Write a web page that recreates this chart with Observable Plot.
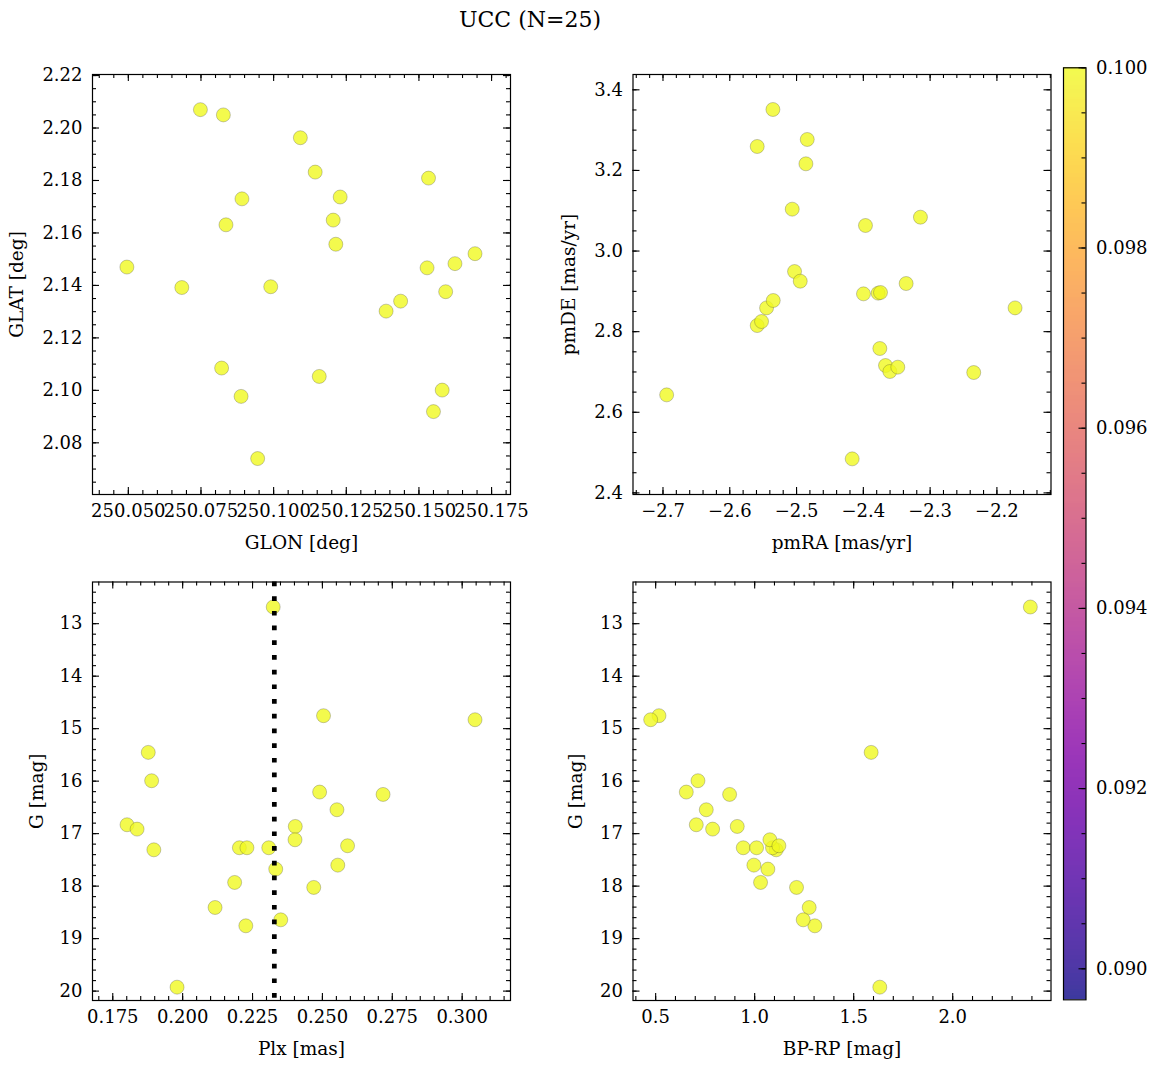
<!DOCTYPE html>
<html>
<head>
<meta charset="utf-8">
<script src="https://cdn.jsdelivr.net/npm/d3@7"></script>
<script src="https://cdn.jsdelivr.net/npm/@observablehq/plot@0.6"></script>
<style>
  html, body { margin: 0; padding: 0; background: #fff; }
  #fig { position: relative; width: 1160px; height: 1067px; background: #fff; font-family: "DejaVu Serif", serif; overflow: hidden; }
  #fig svg { position: absolute; left: 0; top: 0; }
  #fig svg, #fig svg text, #fig svg g { font-family: "DejaVu Serif", serif !important; font-variant: normal !important; }
  #title { position: absolute; left: 0; top: 8.7px; width: 1060px; text-align: center; font-size: 22px; line-height: 22px; color: #000; }
</style>
</head>
<body>
<div id="fig"><div id="title">UCC (N=25)</div></div>
<script>
// ---------------- data ----------------
// Panel 1: galactic coordinates
const glon = [250.0495, 250.0684, 250.0748, 250.0827, 250.0836, 250.0821, 250.0891, 250.0888, 250.0945, 250.0990,
              250.1092, 250.1143, 250.1157, 250.1205, 250.1229, 250.1214, 250.1387, 250.1437, 250.1533, 250.1528,
              250.1550, 250.1580, 250.1592, 250.1624, 250.1693];
const glat = [2.1470, 2.1392, 2.2070, 2.2050, 2.1631, 2.1085, 2.1730, 2.0977, 2.0740, 2.1395,
              2.1963, 2.1832, 2.1053, 2.1649, 2.1737, 2.1557, 2.1302, 2.1340, 2.1809, 2.1467,
              2.0919, 2.1001, 2.1376, 2.1483, 2.1521];
// Panel 2: proper motions
const pmra = [-2.6945, -2.5589, -2.5589, -2.5524, -2.5449, -2.5349, -2.5354, -2.5065, -2.5030, -2.4945,
              -2.4860, -2.4840, -2.4167, -2.3998, -2.3968, -2.3778, -2.3743, -2.3753, -2.3668, -2.3603,
              -2.3484, -2.3359, -2.3145, -2.2347, -2.1728];
const pmde = [2.6432, 3.2594, 2.8152, 2.8252, 2.8590, 2.8773, 3.3512, 3.1039, 2.9492, 2.9252,
              3.2164, 3.2768, 2.4844, 2.8938, 3.0634, 2.8955, 2.8971, 2.7582, 2.7160, 2.7011,
              2.7119, 2.9194, 3.0840, 2.6986, 2.8590];
// Panels 3 & 4: parallax, G magnitude, colour (same stars)
const plx  = [0.1801, 0.1837, 0.1877, 0.1889, 0.1897, 0.1980, 0.2116, 0.2186, 0.2203, 0.2230,
              0.2226, 0.2308, 0.2324, 0.2333, 0.2351, 0.2403, 0.2402, 0.2469, 0.2490, 0.2504,
              0.2552, 0.2555, 0.2590, 0.2717, 0.3046];
const gmag = [16.831, 16.914, 15.452, 15.992, 17.308, 19.925, 18.407, 17.930, 17.269, 17.269,
              18.756, 17.269, 12.682, 17.676, 18.642, 16.863, 17.117, 18.025, 16.208, 14.753,
              16.545, 17.600, 17.231, 16.253, 14.830];
const bprp = [0.7052, 0.7876, 1.5881, 0.7136, 1.1088, 1.6318, 1.2753, 1.0297, 0.9423, 1.0096,
              1.3039, 1.0900, 2.3920, 1.0667, 1.2450, 0.9120, 1.0769, 1.2114, 0.6547, 0.5168,
              0.7556, 0.9960, 1.1223, 0.8734, 0.4748];
// colour variable of the members (all equal) and reference parallax line
const memberColorValue = 0.1;
const plxReference = 0.2328;

// tick labels
const glonTicks = [250.050, 250.075, 250.100, 250.125, 250.150, 250.175];
const glatTicks = [2.08, 2.10, 2.12, 2.14, 2.16, 2.18, 2.20, 2.22];
const pmraTicks = [-2.7, -2.6, -2.5, -2.4, -2.3, -2.2];
const pmdeTicks = [2.4, 2.6, 2.8, 3.0, 3.2, 3.4];
const plxTicks  = [0.175, 0.200, 0.225, 0.250, 0.275, 0.300];
const gTicks    = [13, 14, 15, 16, 17, 18, 19, 20];
const bprpTicks = [0.5, 1.0, 1.5, 2.0];
const cbTicks   = [0.090, 0.092, 0.094, 0.096, 0.098, 0.100];
const cbDomain  = [0.089656, 0.100];

// ---------------- helpers ----------------
const W = 1160, H = 1067;
const FONT = "'DejaVu Serif', serif";
const TICK_FONT = 18, LABEL_FONT = 18.5;
const fig = document.getElementById("fig");
const colorScale = {type: "linear", scheme: "plasma", domain: cbDomain};

function minorTicks(domain, step) {
  const [a, b] = d3.extent(domain);
  const out = [];
  for (let k = Math.ceil(a / step - 1e-9); k * step <= b + 1e-12; k++) out.push(+(k * step).toFixed(10));
  return out;
}
function inside(vals, domain) {
  const [a, b] = d3.extent(domain);
  return vals.filter(v => v >= a - 1e-12 && v <= b + 1e-12);
}
function place(svg) {
  svg.style.position = "absolute"; svg.style.left = "0px"; svg.style.top = "0px";
  svg.style.fontFamily = FONT;
  svg.setAttribute("font-family", FONT);
  fig.appendChild(svg);
}

function panel(o) {
  const fw = o.fx1 - o.fx0, fh = o.fy1 - o.fy0;
  const xMaj = inside(o.xTicks, o.xDomain), yMaj = inside(o.yTicks, o.yDomain);
  const xMin = minorTicks(o.xDomain, o.xMinor), yMin = minorTicks(o.yDomain, o.yMinor);
  const tk = {stroke: "#000", strokeWidth: 1.1};
  const marks = [
    ...o.marks,
    Plot.frame({stroke: "#000", strokeWidth: 1.2}),
    Plot.tickX(xMaj, {x: d => d, insetTop: fh - 7, ...tk}),
    Plot.tickX(xMaj, {x: d => d, insetBottom: fh - 7, ...tk}),
    Plot.tickX(xMin, {x: d => d, insetTop: fh - 4, ...tk}),
    Plot.tickX(xMin, {x: d => d, insetBottom: fh - 4, ...tk}),
    Plot.tickY(yMaj, {y: d => d, insetRight: fw - 7, ...tk}),
    Plot.tickY(yMaj, {y: d => d, insetLeft: fw - 7, ...tk}),
    Plot.tickY(yMin, {y: d => d, insetRight: fw - 4, ...tk}),
    Plot.tickY(yMin, {y: d => d, insetLeft: fw - 4, ...tk}),
    Plot.axisX(xMaj, {anchor: "bottom", tickSize: 0, tickPadding: 10, tickFormat: o.xFmt, fontSize: TICK_FONT, fontFamily: FONT, fontVariant: "normal", label: null}),
    Plot.axisY(yMaj, {anchor: "left", tickSize: 0, tickPadding: 10, tickFormat: o.yFmt, fontSize: TICK_FONT, fontFamily: FONT, fontVariant: "normal", label: null}),
    Plot.text([o.xLabel], {frameAnchor: "bottom", dy: 54, text: d => d, lineAnchor: "bottom", fontSize: LABEL_FONT, fontFamily: FONT, fill: "#000"}),
    Plot.text([o.yLabel], {frameAnchor: "left", dx: o.yLabelDx, rotate: -90, text: d => d, lineAnchor: "bottom", textAnchor: "middle", fontSize: LABEL_FONT, fontFamily: FONT, fill: "#000"})
  ];
  const svg = Plot.plot({
    width: W, height: H,
    marginLeft: o.fx0, marginRight: W - o.fx1, marginTop: o.fy0, marginBottom: H - o.fy1,
    x: {domain: o.xDomain},
    y: {domain: o.yDomain},
    color: colorScale,
    style: {background: "transparent", fontFamily: FONT, color: "#000", overflow: "visible"},
    marks
  });
  place(svg);
}

const dotStyle = {r: 7, fill: () => memberColorValue, fillOpacity: 0.8, stroke: "#333", strokeOpacity: 0.45, strokeWidth: 0.6};
const fmt = s => d3.format(s);

// Panel 1
panel({
  fx0: 92, fx1: 510, fy0: 74, fy1: 494,
  xDomain: [250.03767, 250.18151], yDomain: [2.0603, 2.2204],
  xTicks: glonTicks, yTicks: glatTicks, xMinor: 0.005, yMinor: 0.005,
  xFmt: fmt(".3f"), yFmt: fmt(".2f"),
  xLabel: "GLON [deg]", yLabel: "GLAT [deg]", yLabelDx: -69.5,
  marks: [Plot.dot(glon.map((x, i) => ({x, y: glat[i]})), {x: "x", y: "y", ...dotStyle})]
});
// Panel 2
panel({
  fx0: 632.5, fx1: 1050.5, fy0: 74, fy1: 494,
  xDomain: [-2.7449, -2.1190], yDomain: [2.396, 3.438],
  xTicks: pmraTicks, yTicks: pmdeTicks, xMinor: 0.02, yMinor: 0.05,
  xFmt: fmt(".1f"), yFmt: fmt(".1f"),
  xLabel: "pmRA [mas/yr]", yLabel: "pmDE [mas/yr]", yLabelDx: -58,
  marks: [Plot.dot(pmra.map((x, i) => ({x, y: pmde[i]})), {x: "x", y: "y", ...dotStyle})]
});
// Panel 3
panel({
  fx0: 92, fx1: 510, fy0: 581.5, fy1: 1000,
  xDomain: [0.16775, 0.31729], yDomain: [20.179, 12.206],
  xTicks: plxTicks, yTicks: gTicks, xMinor: 0.005, yMinor: 0.2,
  xFmt: fmt(".3f"), yFmt: fmt("d"),
  xLabel: "Plx [mas]", yLabel: "G [mag]", yLabelDx: -50,
  marks: [
    Plot.dot(plx.map((x, i) => ({x, y: gmag[i]})), {x: "x", y: "y", ...dotStyle}),
    Plot.ruleX([plxReference], {stroke: "#000", strokeWidth: 4.7, strokeDasharray: "4.7,10"})
  ]
});
// Panel 4
panel({
  fx0: 632.5, fx1: 1050.5, fy0: 581.5, fy1: 1000,
  xDomain: [0.3856, 2.4963], yDomain: [20.179, 12.206],
  xTicks: bprpTicks, yTicks: gTicks, xMinor: 0.1, yMinor: 0.2,
  xFmt: fmt(".1f"), yFmt: fmt("d"),
  xLabel: "BP-RP [mag]", yLabel: "G [mag]", yLabelDx: -51,
  marks: [Plot.dot(bprp.map((x, i) => ({x, y: gmag[i]})), {x: "x", y: "y", ...dotStyle})]
});

// Colorbar
(function () {
  const fx0 = 1063, fx1 = 1085.5, fy0 = 67.3, fy1 = 999.3;
  const fw = fx1 - fx0;
  const N = 466;
  const step = (cbDomain[1] - cbDomain[0]) / N;
  const slices = d3.range(N).map(i => [cbDomain[0] + i * step, cbDomain[0] + (i + 1) * step]);
  const minor = minorTicks(cbDomain, 0.0005);
  const tk = {stroke: "#000", strokeWidth: 1.1};
  const svg = Plot.plot({
    width: W, height: H,
    marginLeft: fx0, marginRight: W - fx1, marginTop: fy0, marginBottom: H - fy1,
    x: {domain: [0, 1], axis: null},
    y: {domain: cbDomain},
    color: colorScale,
    style: {background: "transparent", fontFamily: FONT, color: "#000", overflow: "visible"},
    marks: [
      Plot.rect(slices, {x1: () => 0, x2: () => 1, y1: d => d[0], y2: d => d[1], fill: d => (d[0] + d[1]) / 2, fillOpacity: 0.8, shapeRendering: "crispEdges"}),
      Plot.frame({stroke: "#000", strokeWidth: 1.2}),
      Plot.tickY(cbTicks, {y: d => d, insetLeft: fw - 7, ...tk}),
      Plot.tickY(minor, {y: d => d, insetLeft: fw - 4, ...tk}),
      Plot.axisY(cbTicks, {anchor: "right", tickSize: 0, tickPadding: 10, tickFormat: fmt(".3f"), fontSize: TICK_FONT, fontFamily: FONT, fontVariant: "normal", label: null})
    ]
  });
  place(svg);
})();
</script>
</body>
</html>
